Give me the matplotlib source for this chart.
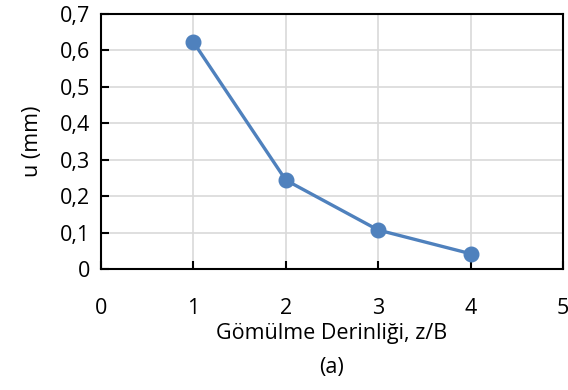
import matplotlib.pyplot as plt
from matplotlib.ticker import FuncFormatter

plt.rcParams['font.family'] = ['Open Sans', 'DejaVu Sans']

derinlik = [1, 2, 3, 4]
u_mm = [0.623, 0.244, 0.107, 0.042]
x_ticks = [0, 1, 2, 3, 4, 5]
y_ticks = [0, 0.1, 0.2, 0.3, 0.4, 0.5, 0.6, 0.7]

fs = 15.5

fig = plt.figure(figsize=(5.68, 3.9), dpi=100)
ax = fig.add_axes([101 / 568, 1 - 269 / 390, 462 / 568, 255 / 390])

ax.plot(derinlik, u_mm, color='#4F81BD', linewidth=2.4, marker='o',
        markersize=10.5, zorder=3)

ax.set_xlim(0, 5)
ax.set_ylim(0, 0.7)
ax.set_xticks(x_ticks)
ax.set_yticks(y_ticks)
ax.yaxis.set_major_formatter(FuncFormatter(
    lambda v, p: '0' if v == 0 else f'{v:.1f}'.replace('.', ',')))
ax.grid(True, color='#d9d9d9', linewidth=1.2)
ax.set_axisbelow(True)

for s in ax.spines.values():
    s.set_linewidth(1.5)
    s.set_color('black')
ax.tick_params(axis='x', direction='in', length=6, width=1.5, pad=21,
               labelsize=fs)
ax.tick_params(axis='y', direction='in', length=6, width=1.5, pad=8,
               labelsize=fs)

ax.set_xlabel('Gömülme Derinliği, z/B', fontsize=fs, labelpad=3)
ax.set_ylabel('u (mm)', fontsize=fs, labelpad=12)
fig.text(0.5 * (101 + 563) / 568, 1 - 367 / 390, '(a)', ha='center',
         va='center', fontsize=fs)

fig.savefig('out.png', dpi=100)
